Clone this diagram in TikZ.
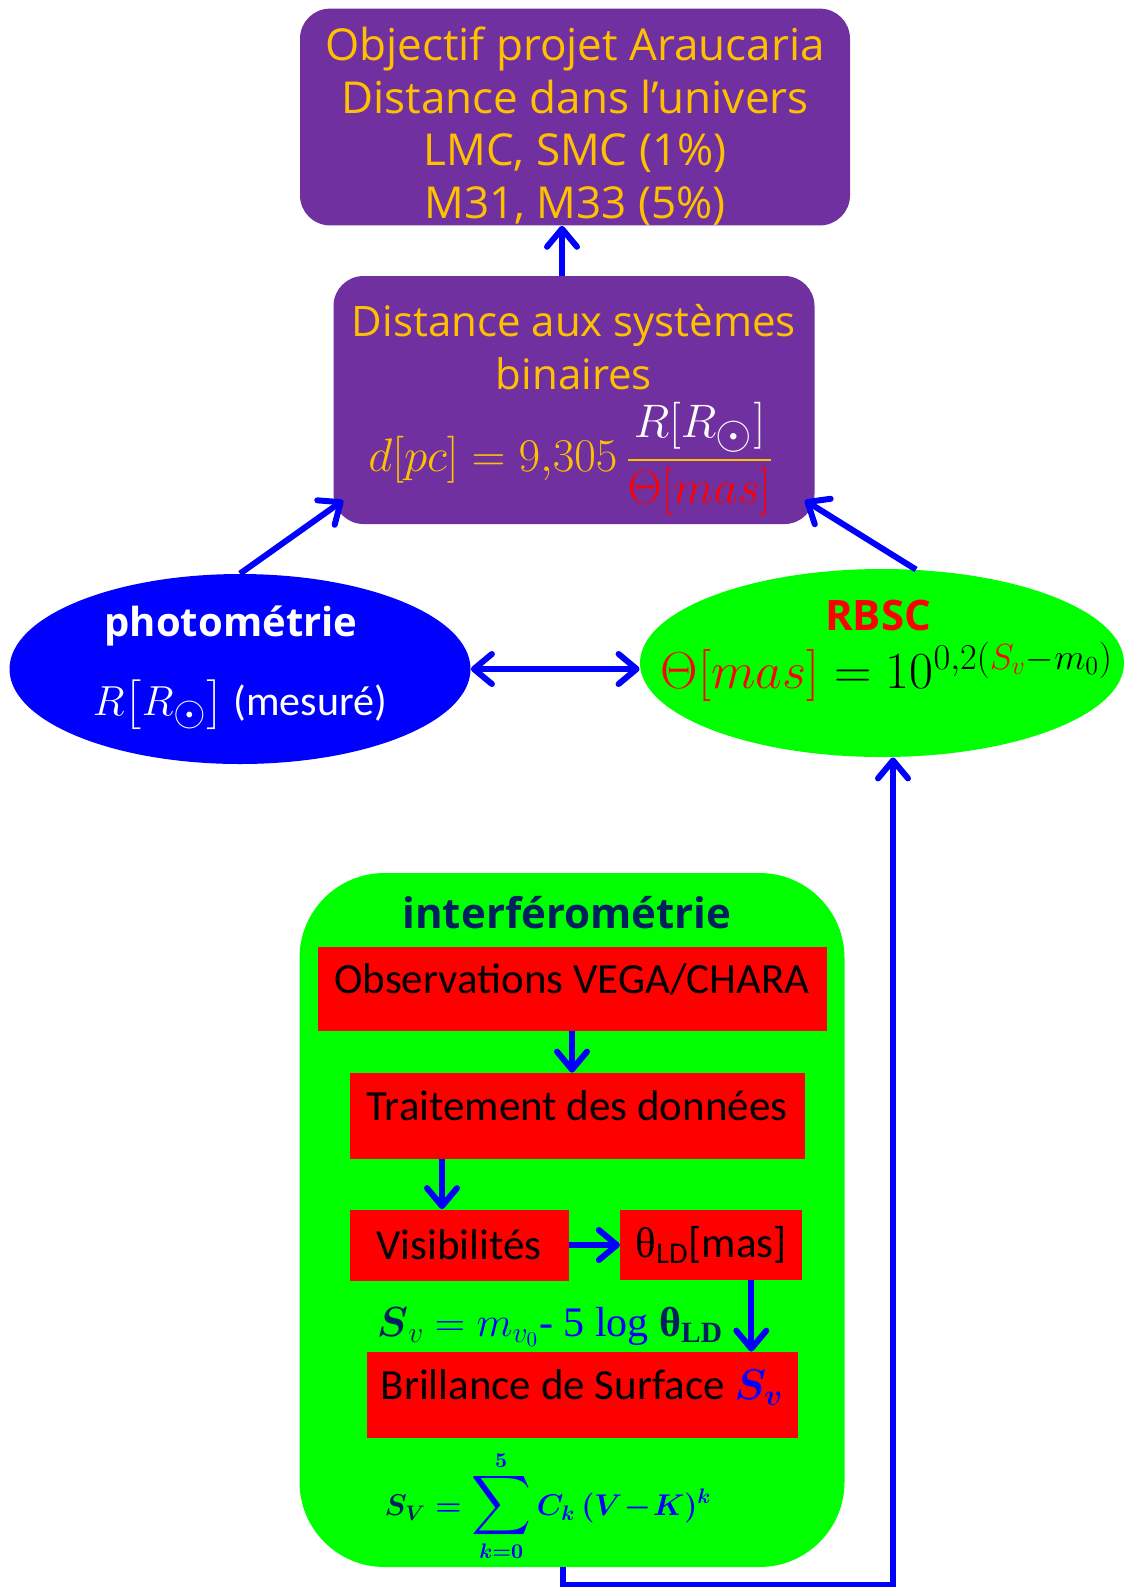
\documentclass[tikz,border=0pt]{standalone}
\usepackage{fix-cm}
\usepackage{amsmath}
\usepackage{fontspec}
\usepackage{tikz}
\usetikzlibrary{arrows.meta,calc,positioning,shapes.geometric}
\newfontfamily\comic{Open Sans}
\newfontfamily\calib{Carlito}
\newfontfamily\tnr{Liberation Serif}
\definecolor{violet7}{RGB}{112,48,160}
\definecolor{gold}{RGB}{255,192,0}
\definecolor{navy}{RGB}{0,32,96}
\newdimen\pxdim
\pxdim=0.5pt
\tikzstyle{goal}=[
  align=center,
  fill=violet7,
  font={\comic\fontsize{21}{26.3}\selectfont},
  inner sep=0pt,
  rectangle,
  rounded corners=30\pxdim,
  text=gold,
]
\tikzstyle{method}=[
  ellipse,
  inner sep=0pt,
]
\tikzstyle{methodtitle}=[
  anchor=base,
  font={\comic\bfseries\fontsize{20}{24}\selectfont},
  inner sep=0pt,
]
\tikzstyle{formula}=[
  inner sep=0pt,
]
\tikzstyle{stepbox}=[
  fill=red,
  font={\calib\fontsize{21.5}{26}\selectfont},
  inner sep=0pt,
  rectangle,
]
\tikzstyle{highbox}=[
  stepbox,
  text depth=11pt,
  text height=15pt,
]
\tikzstyle{arrow}=[
  color=blue,
  draw=blue,
  line width=3pt,
]
\tikzset{
  >={Straight Barb[round,length=9pt,width=15pt]},
}

\begin{document}
\begin{tikzpicture}[x=0.5pt, y=-0.5pt]
  \useasboundingbox (0,0) rectangle (1130,1587);
  %% objectives
  \node (objectif) [goal, font={\comic\fontsize{22}{26.3}\selectfont}, minimum width=550\pxdim, minimum height=215\pxdim] at (575,117)
    {\rule{0pt}{26pt}Objectif projet Araucaria\\Distance dans l’univers\\LMC, SMC (1\%)\\M31, M33 (5\%)};
  \node (distance) [goal, minimum width=481\pxdim, minimum height=248\pxdim] at (574,400) {};
  \node (distancetitle) [formula, text=gold, align=center, font={\comic\fontsize{21}{26.3}\selectfont}] at (574,347)
    {Distance aux systèmes\\binaires};
  \node (distanceformula) [formula, text=gold, font={\fontsize{23.5}{28}\selectfont}] at (571,459)
    {$d[pc] = 9{,}305\,\dfrac{\color{white}R[R_{\textstyle\odot}]}{\color{red}\Theta[mas]}$};
  %%
  \node (photo) [method, fill=blue, minimum width=461\pxdim, minimum height=190\pxdim] at (240,669) {};
  \node (phototitle) [methodtitle, text=white] at (231,636) {photométrie};
  \node (photoformula) [formula, anchor=base, text=white, font={\calib\fontsize{21}{25}\selectfont}] at (240,715)
    {$R\bigl[R_{\textstyle\odot}\bigr]$ (mesuré)};
  \node (rbsc) [method, fill=green, minimum width=484\pxdim, minimum height=188\pxdim] at (882,663) {};
  \node (rbsctitle) [methodtitle, text=red, font={\comic\bfseries\fontsize{21}{25}\selectfont}] at (878,630) {RBSC};
  \node (rbscformula) [formula, anchor=base, font={\fontsize{26}{30}\selectfont}] at (887,688)
    {${\color{red}\Theta[mas]} = 10^{0{,}2({\color{red}S_v}-m_0)}$};
  %%
  \node (interf) [fill=green, rounded corners=85\pxdim, minimum width=545\pxdim, minimum height=694\pxdim] at (572,1220) {};
  \node (interftitle) [methodtitle, text=navy, font={\comic\bfseries\fontsize{21}{25}\selectfont}] at (567,928) {interférométrie};
  \node (obs) [highbox, minimum width=509\pxdim, minimum height=84\pxdim] at (572,989) {Observations VEGA/CHARA};
  \node (traitement) [highbox, minimum width=455\pxdim, minimum height=86\pxdim] at (577,1116) {Traitement des données};
  \node (visib) [stepbox, minimum width=219\pxdim, minimum height=71\pxdim] at (459,1245) {Visibilités};
  \node (theta) [stepbox, right=25.5pt of visib, minimum width=182\pxdim, minimum height=70\pxdim]
    {{\tnr θ}\textsubscript{LD}[mas]};
  \node (svlaw) [formula, anchor=base, font={\tnr\fontsize{21}{25}\selectfont}] at (550,1336)
    {{\color{navy}$\boldsymbol{S}_v$} {\color{blue}$= m_{v_0}$- 5 log} {\color{navy}\bfseries θ\textsubscript{LD}}};
  \node (brillance) [highbox, minimum width=431\pxdim, minimum height=86\pxdim] at (582,1395)
    {Brillance de Surface {\color{blue}$\boldsymbol{S_v}$}};
  \node (sumlaw) [formula, text=blue, font={\boldmath\fontsize{15}{19}\selectfont}] at (548,1506)
    {$\displaystyle {\color{navy}S_V} = \mathop{\mbox{\fontsize{20}{24}\selectfont$\displaystyle\sum$}}\limits_{k=0}^{5} C_k\,(V\!-\!K)^k$};
  %%
  \draw [->, arrow] ([xshift=-6pt]distance.north) -- ([xshift=-6pt]distance.north |- objectif.south);
  \draw [->, arrow] (photo.north) -- ($(distance.south west)+(10,-24)$);
  \draw [->, arrow] (rbsc.70) -- ($(distance.south east)+(-10,-24)$);
  \draw [<->, arrow] (photo.east) -- (photo.east -| rbsc.west);
  \draw [->, arrow] (obs.south) -- (obs.south |- traitement.north);
  \draw [->, arrow] ([xshift=-8.5pt]visib.north |- traitement.south) -- ([xshift=-8.5pt]visib.north);
  \draw [->, arrow] (visib) -- (theta);
  \draw [->, arrow] ([xshift=20pt]theta.south) -- ([xshift=20pt]theta.south |- brillance.north);
  \coordinate (corner) at (893,1585);
  \draw [->, arrow] ([xshift=-4.5pt]interf.south) |- (corner) -- (corner |- rbsc.south);
\end{tikzpicture}
\end{document}
